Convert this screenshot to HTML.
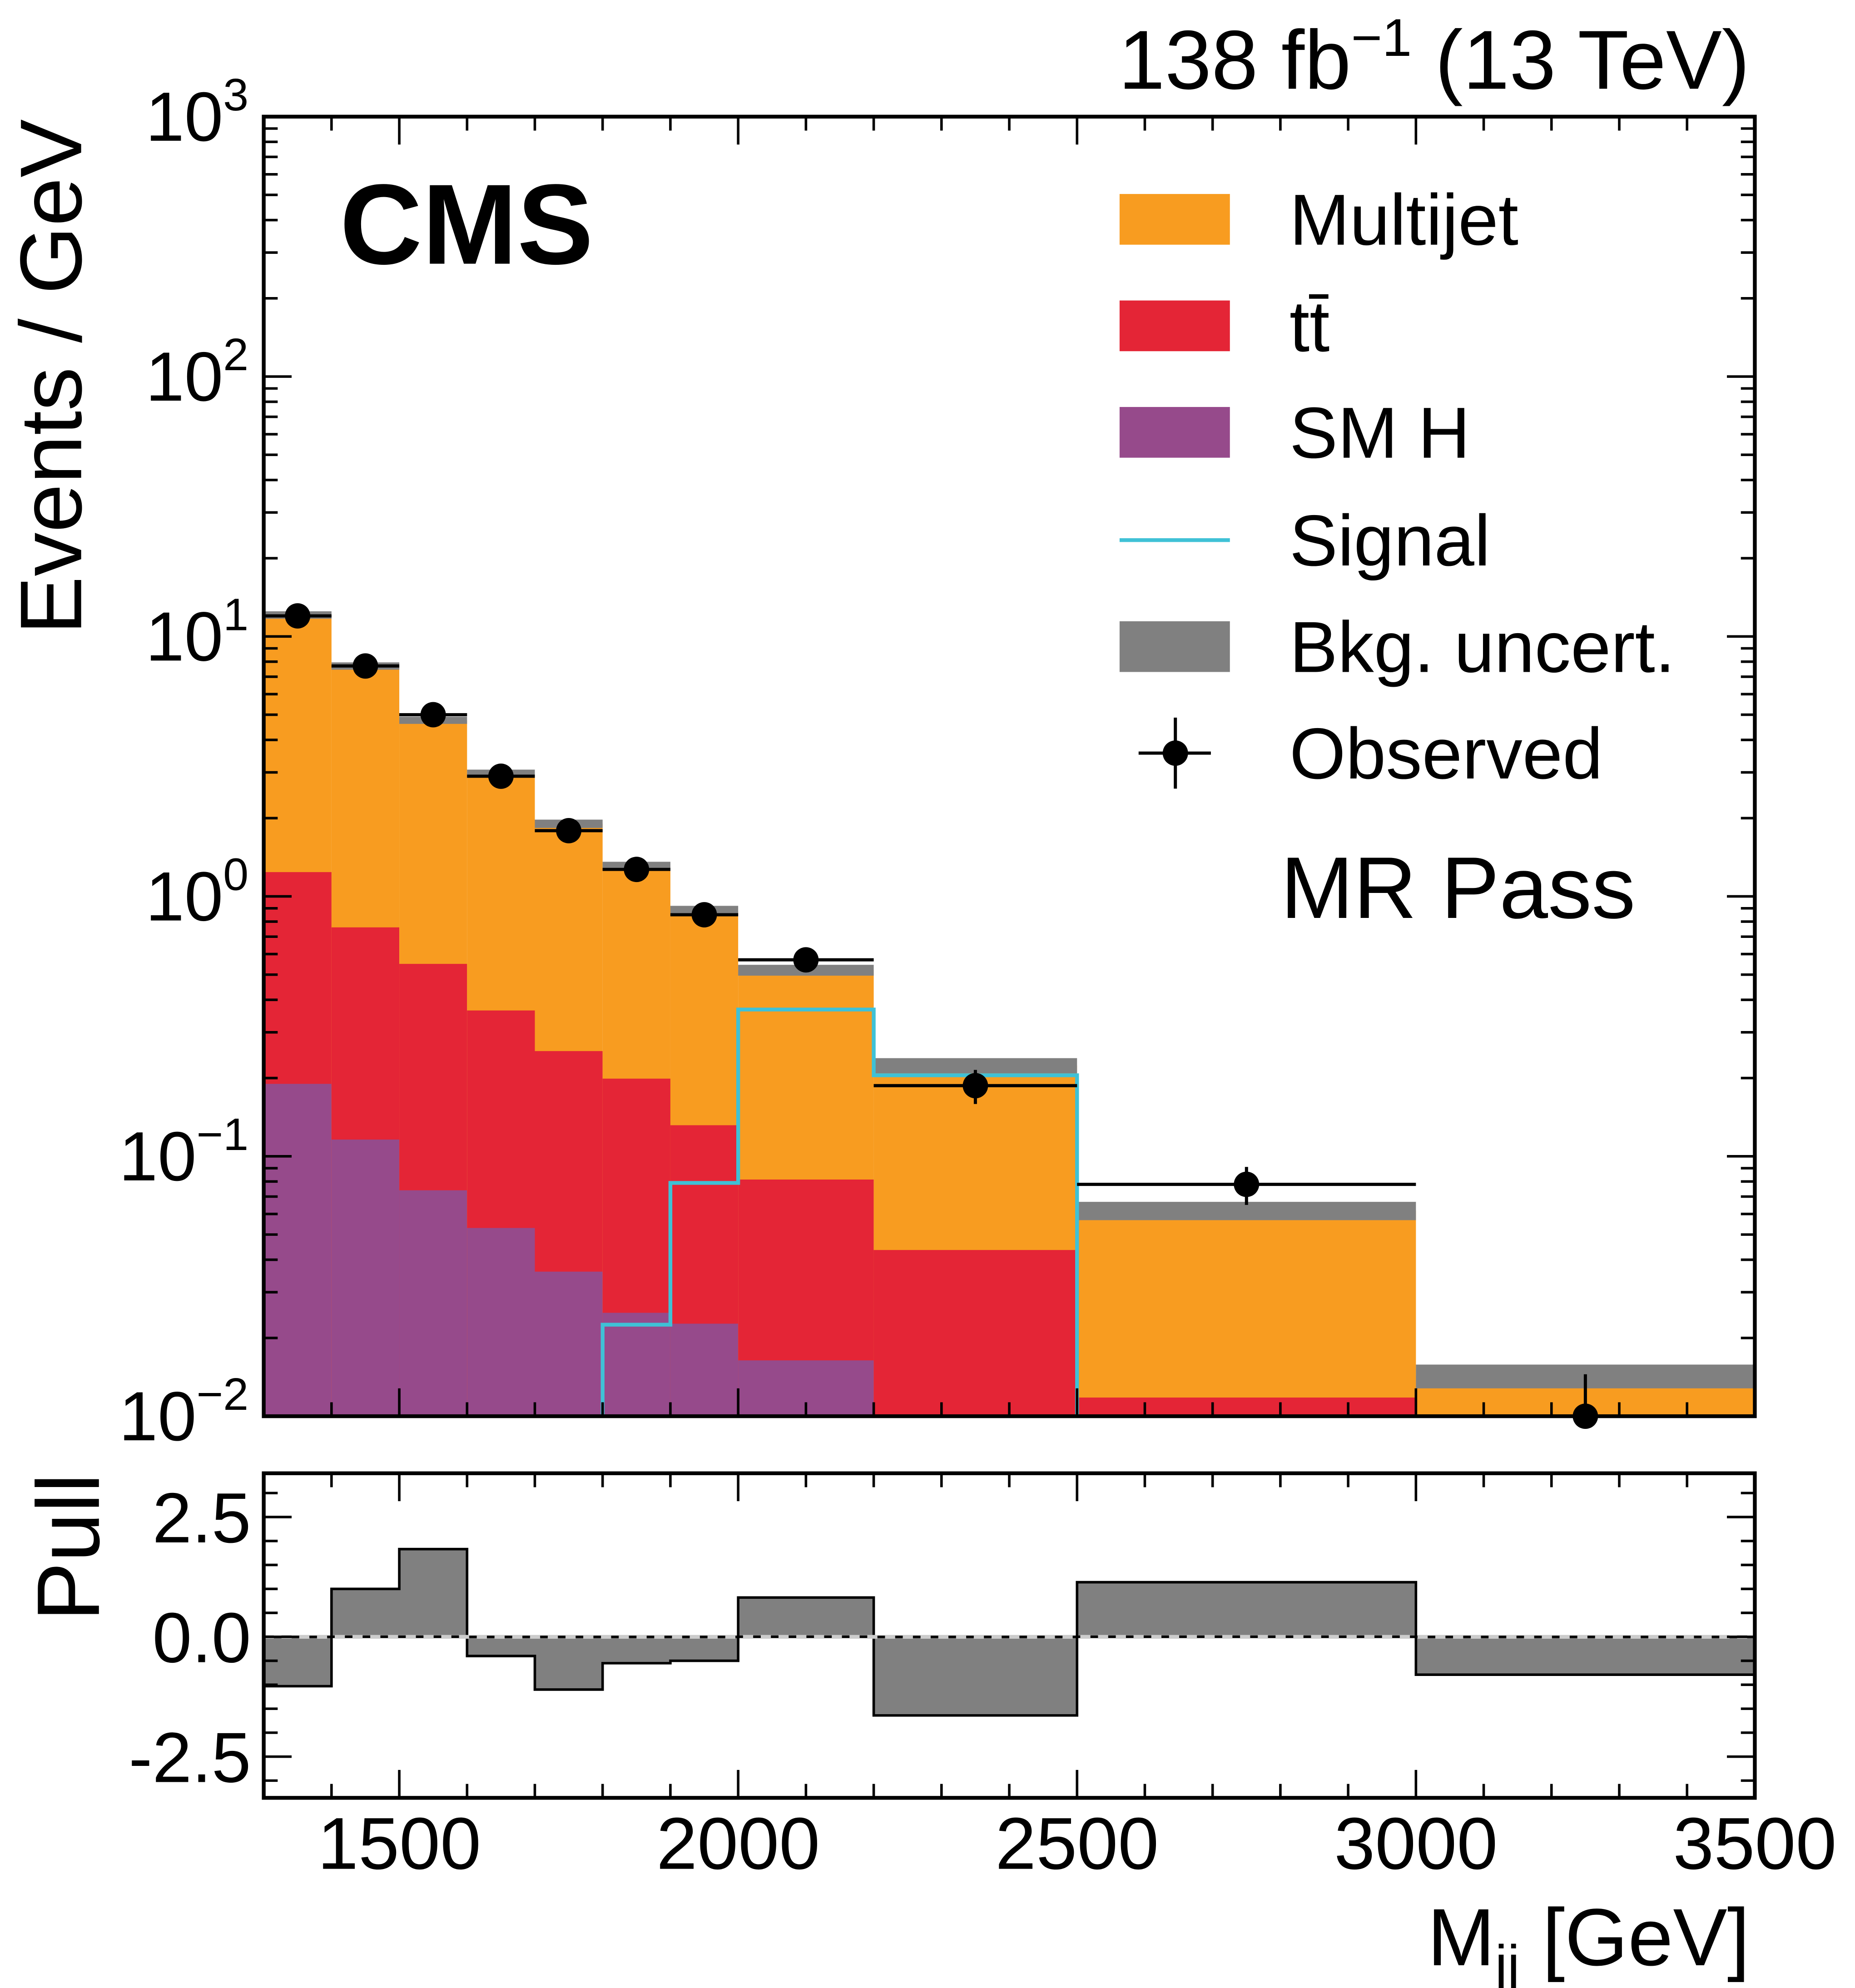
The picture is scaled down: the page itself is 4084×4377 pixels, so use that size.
<!DOCTYPE html>
<html><head><meta charset="utf-8"><style>
html,body{margin:0;padding:0;background:#fff}
svg{display:block}
text{font-family:"Liberation Sans",sans-serif;fill:#000}
</style></head><body>
<svg id="chart" width="4084" height="4377" viewBox="0 0 4084 4377" xmlns="http://www.w3.org/2000/svg">
<g id="root" transform="scale(2.7915)"></g>
</svg>
<script>
const edges=[1300,1400,1500,1600,1700,1800,1900,2000,2200,2500,3000,3500];
const smh=[0.19,0.116,0.074,0.053,0.036,0.025,0.0227,0.0164,0.0001,0.0001,0.0001];
const ttbar=[1.05,0.644,0.476,0.311,0.218,0.174,0.109,0.065,0.0435,0.0117,0.005];
const multijet=[10.86,6.94,4.21,2.61,1.65,1.11,0.748,0.439,0.180,0.050,0.0092];
const bkgUnc=[0.4,0.25,0.15,0.1,0.07,0.05,0.04,0.025,0.015,0.005,0.0015];
const signalEdges=[1300,1800,1900,2000,2200,2500,3500];
const signalVals=[0.001,0.0225,0.079,0.367,0.205,0.001];
const dataX=[1350,1450,1550,1650,1750,1850,1950,2100,2350,2750,3250];
const dataY=[12.0,7.7,5.0,2.9,1.79,1.27,0.85,0.57,0.187,0.078,0.0100];
const dataErr=[0.35,0.3,0.25,0.17,0.13,0.11,0.09,0.05,0.028,0.013,0.0045];
const pull=[-1.03,1.0,1.83,-0.4,-1.1,-0.55,-0.5,0.82,-1.64,1.14,-0.79];
const xTicks=[1500,2000,2500,3000,3500];
const yDecades=[-2,-1,0,1,2,3];
const pullTicks=[2.5,0.0,-2.5];
const pullTickLabels=["2.5","0.0","-2.5"];

const L=208,R=1384,T=92,B=1117,PT=1162,PB=1418;
const NS="http://www.w3.org/2000/svg";
const root=document.getElementById('root');
function X(v){return L+(v-1300)/(3500-1300)*(R-L);}
function Y(v){const lv=Math.log10(Math.max(v,1e-4));return Math.min(B+5,Math.max(T,B-(lv+2)/5*(B-T)));}
function PY(v){return 1291-v*(94.5/2.5);}
function el(tag,attrs,parent){const e=document.createElementNS(NS,tag);for(const k in attrs)e.setAttribute(k,attrs[k]);(parent||root).appendChild(e);return e;}

const defs=el('defs',{});
const cp=el('clipPath',{id:'mc'},defs);el('rect',{x:L,y:T,width:R-L,height:B-T},cp);
const cp2=el('clipPath',{id:'pc'},defs);el('rect',{x:L,y:PT,width:R-L,height:PB-PT},cp2);
const g=el('g',{'clip-path':'url(#mc)'});



for(let i=0;i<edges.length-1;i++){
  const x0=X(edges[i]),x1=X(edges[i+1]);
  const h=smh[i],t=h+ttbar[i],m=t+multijet[i];
  const rm=el('rect',{x:x0,y:Y(m),width:x1-x0,height:B+5-Y(m),fill:'#f89c20'},g);
  
  
  const rt=el('rect',{x:x0,y:Y(t),width:x1-x0,height:B+5-Y(t),fill:'#e42536'},g);
  
  
  const rh=el('rect',{x:x0,y:Y(h),width:x1-x0,height:B+5-Y(h),fill:'#964a8b'},g);
  
  
  const ru=el('rect',{x:x0,y:Y(m+bkgUnc[i]),width:x1-x0,height:Math.max(2,Y(m-bkgUnc[i])-Y(m+bkgUnc[i])),fill:'#808080'},g);
  
  
}
let d='';
for(let i=0;i<signalVals.length;i++){
  const x0=X(signalEdges[i]),x1=X(signalEdges[i+1]),y=Y(signalVals[i]);
  d+=(i===0?'M':'L')+x0+','+y+' L'+x1+','+y+' ';
}
const sp=el('path',{d:d,fill:'none',stroke:'#3fc1d6','stroke-width':3},g);


for(let i=0;i<dataX.length;i++){
  const cx=X(dataX[i]),cy=Y(dataY[i]);
  const w=(X(edges[i+1])-X(edges[i]))/2;
  const dg=el('g',{},root);
  
  
  el('line',{x1:cx-w,x2:cx+w,y1:cy,y2:cy,stroke:'#000','stroke-width':2.5},dg);
  el('line',{x1:cx,x2:cx,y1:Y(dataY[i]+dataErr[i]),y2:Y(dataY[i]-dataErr[i]),stroke:'#000','stroke-width':2.5},dg);
  el('circle',{cx:cx,cy:cy,r:10,fill:'#000'},dg);
}
const fr=el('rect',{x:L,y:T,width:R-L,height:B-T,fill:'none',stroke:'#000','stroke-width':3});


for(let v=1300;v<=3500;v+=100){
  const x=X(v),maj=(v%500===0),len=maj?22:11;
  [[T,1],[B,-1],[PT,1],[PB,-1]].forEach(([y,dir])=>el('line',{x1:x,x2:x,y1:y,y2:y+dir*len,stroke:'#000','stroke-width':2}));
}
for(let dd=-2;dd<3;dd++){
  for(let k=1;k<10;k++){
    const v=k*Math.pow(10,dd),y=Y(v),len=k===1?22:11;
    el('line',{x1:L,x2:L+len,y1:y,y2:y,stroke:'#000','stroke-width':2});
    el('line',{x1:R,x2:R-len,y1:y,y2:y,stroke:'#000','stroke-width':2});
  }
}
yDecades.forEach(dd=>{
  const t=el('text',{x:L-12,y:Y(Math.pow(10,dd))+19,'text-anchor':'end','font-size':55});
  
  
  const a=el('tspan',{},t);a.textContent='10';
  const b=el('tspan',{dy:-24,'font-size':36},t);b.textContent=(dd<0?'\u2212':'')+Math.abs(dd);
});
const pg=el('g',{'clip-path':'url(#pc)'});


let pd='M'+X(edges[0])+','+PY(0);
for(let i=0;i<pull.length;i++){pd+=' L'+X(edges[i])+','+PY(pull[i])+' L'+X(edges[i+1])+','+PY(pull[i]);}
pd+=' L'+X(edges[edges.length-1])+','+PY(0)+' Z';
const pp=el('path',{d:pd,fill:'#808080',stroke:'#000','stroke-width':2},pg);


el('line',{x1:L,x2:R,y1:PY(0),y2:PY(0),stroke:'#ccc','stroke-width':3,'stroke-dasharray':'8,6'},pg);
const pf=el('rect',{x:L,y:PT,width:R-L,height:PB-PT,fill:'none',stroke:'#000','stroke-width':3});


for(let v=-3;v<=3.01;v+=0.5){
  const y=PY(v),maj=Math.abs(v%2.5)<1e-6,len=maj?22:11;
  el('line',{x1:L,x2:L+len,y1:y,y2:y,stroke:'#000','stroke-width':2});
  el('line',{x1:R,x2:R-len,y1:y,y2:y,stroke:'#000','stroke-width':2});
}
pullTicks.forEach((v,i)=>{
  const t=el('text',{x:L-10,y:PY(v)+20,'text-anchor':'end','font-size':56});
  t.textContent=pullTickLabels[i];
  
  
});
xTicks.forEach(v=>{
  const t=el('text',{x:X(v),y:1474,'text-anchor':'middle','font-size':58});
  t.textContent=v;
  
  
});
function txt(x,y,s,size,name,extra){const t=el('text',Object.assign({x:x,y:y,'font-size':size},extra||{}));t.textContent=s;return t;}
const xt=el('text',{x:1380,y:1550,'text-anchor':'end','font-size':64});

let s1=el('tspan',{},xt);s1.textContent='M';
let s2=el('tspan',{dy:15,'font-size':44},xt);s2.textContent='jj';
let s3=el('tspan',{dy:-15},xt);s3.textContent=' [GeV]';
txt(0,0,'Events / GeV',69,'y-axis-title',{transform:'translate(64,94) rotate(-90)','text-anchor':'end'});
txt(0,0,'Pull',70,'pull-axis-title',{transform:'translate(78,1162) rotate(-90)','text-anchor':'end'});
const lum=el('text',{x:1380,y:70,'text-anchor':'end','font-size':66});

let l1=el('tspan',{},lum);l1.textContent='138 fb';
let l2=el('tspan',{dy:-26,'font-size':42},lum);l2.textContent='\u22121';
let l3=el('tspan',{dy:26},lum);l3.textContent=' (13 TeV)';
txt(268,208,'CMS',90,'cms-label',{'font-weight':'bold'});
txt(1010,724,'MR Pass',69,'region-label');
const lg=el('g',{});

const items=[['Multijet','#f89c20',173],['tt\u0304','#e42536',257],['SM H','#964a8b',341],['Signal','line',426],['Bkg. uncert.','#808080',510],['Observed','pt',594]];
items.forEach(([n,c,y])=>{
  const eg=el('g',{},lg);
  
  
  if(c==='line')el('line',{x1:883,x2:970,y1:y,y2:y,stroke:'#3fc1d6','stroke-width':3},eg);
  else if(c==='pt'){el('line',{x1:898,x2:955,y1:y,y2:y,stroke:'#000','stroke-width':2.5},eg);el('line',{x1:927,x2:927,y1:y-28,y2:y+28,stroke:'#000','stroke-width':2.5},eg);el('circle',{cx:927,cy:y,r:10,fill:'#000'},eg);}
  else el('rect',{x:883,y:y-20,width:87,height:40,fill:c},eg);
  const t=el('text',{x:1017,y:y+20,'font-size':57},eg);t.textContent=n;
});
</script>
</body></html>
